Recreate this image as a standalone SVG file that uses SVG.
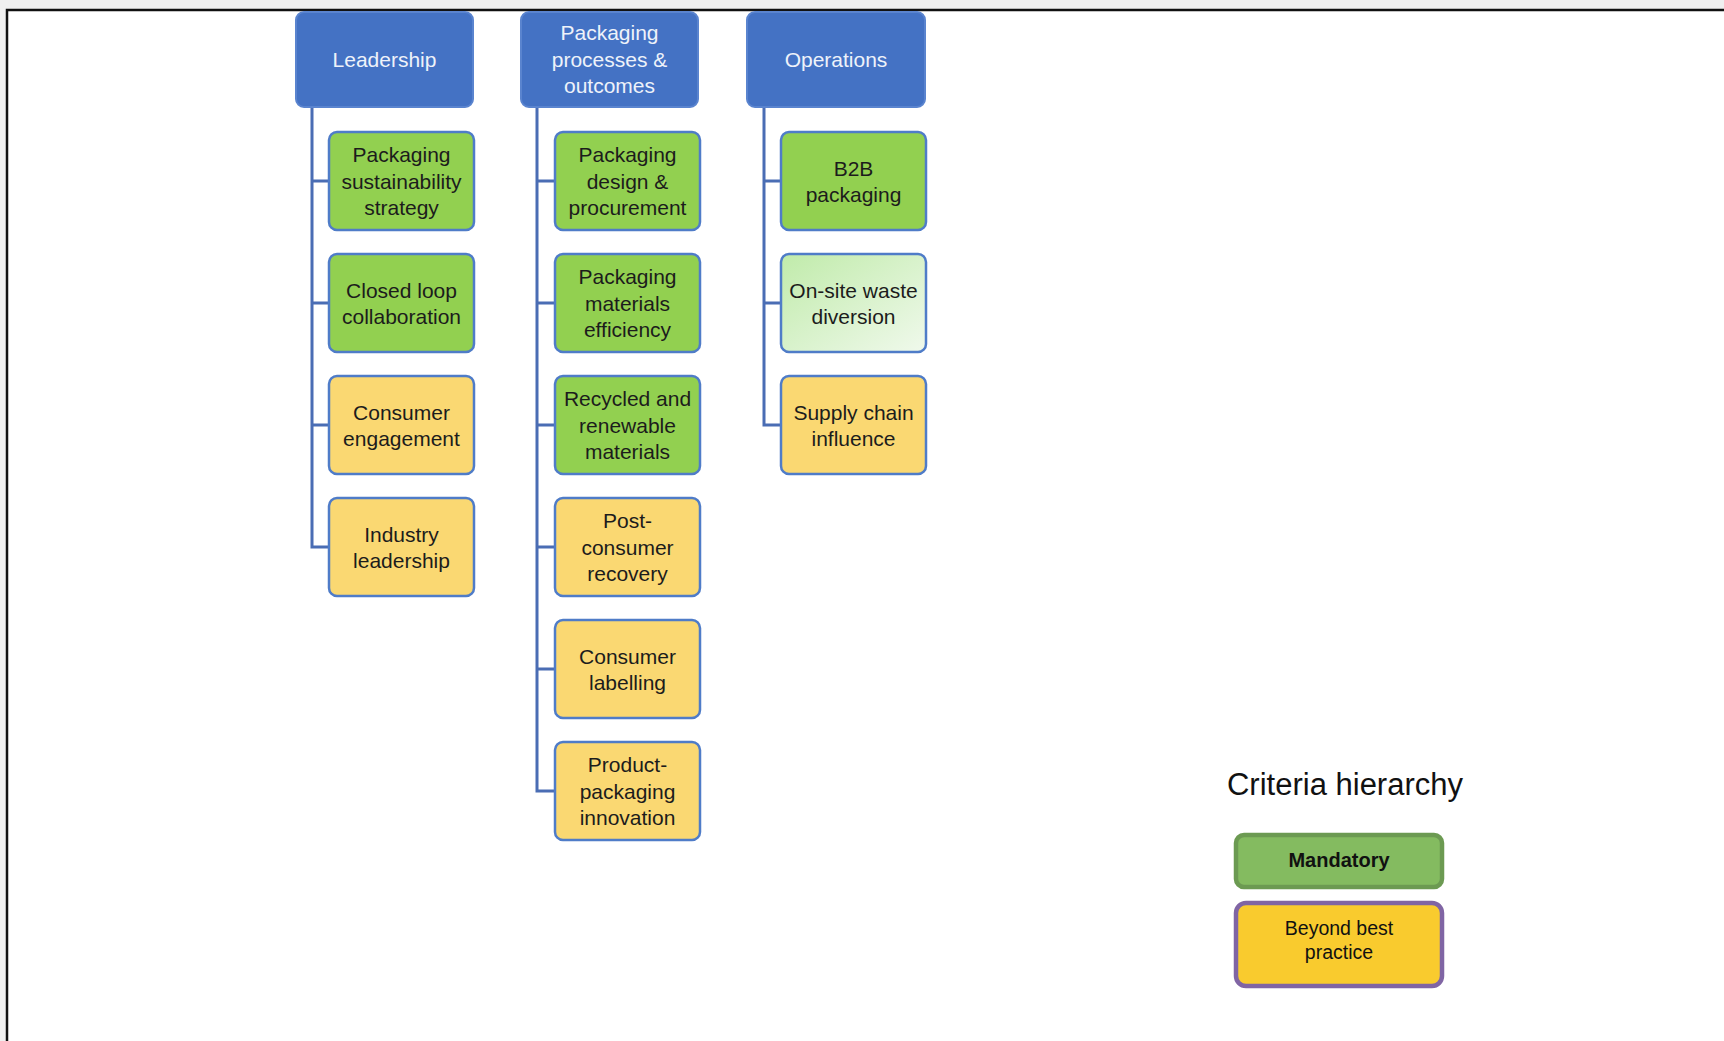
<svg xmlns="http://www.w3.org/2000/svg" width="1724" height="1041" viewBox="0 0 1724 1041">
<style>
.hdr rect{fill:#4472C4;stroke:#5a84cf;stroke-width:2}
.hdr text{fill:#eef2fa;font-family:"Liberation Sans",Arial,sans-serif;font-size:21px;text-anchor:middle}
.nd rect{stroke:#4f7cc8;stroke-width:2.5}
.nd text{fill:#1c1c1c;font-family:"Liberation Sans",Arial,sans-serif;font-size:21px;text-anchor:middle}
.g rect{fill:#92D050}
.y rect{fill:#FAD872}
.lg rect{fill:url(#lgrad)}
.conn path{fill:none;stroke:#4a6db4;stroke-width:3}
</style>
<defs>
<linearGradient id="lgrad" x1="0" y1="0" x2="1" y2="1">
<stop offset="0" stop-color="#c0ebaa"/>
<stop offset="1" stop-color="#f0f9ec"/>
</linearGradient>
</defs>
<rect x="0" y="0" width="1724" height="1041" fill="#f0f0f0"/>
<rect x="7" y="10" width="1717" height="1031" fill="#ffffff"/>
<path d="M7 1041 V10 H1724" fill="none" stroke="#111" stroke-width="2.5"/>

<g class="conn">
<path d="M312 107 V547 H329 M312 181 H329 M312 303 H329 M312 425 H329"/>
<path d="M537 107 V791 H555 M537 181 H555 M537 303 H555 M537 425 H555 M537 547 H555 M537 669 H555"/>
<path d="M764 107 V425 H781 M764 181 H781 M764 303 H781"/>
</g>

<g id="leadership" class="hdr"><rect x="296" y="12" width="177" height="95" rx="8"/><text x="384.5" y="67">Leadership</text></g>
<g id="packaging-processes" class="hdr"><rect x="521" y="12" width="177" height="95" rx="8"/><text x="609.5" y="40">Packaging</text><text x="609.5" y="67">processes &amp;</text><text x="609.5" y="93">outcomes</text></g>
<g id="operations" class="hdr"><rect x="747" y="12" width="178" height="95" rx="8"/><text x="836" y="67">Operations</text></g>

<g id="pkg-sustainability-strategy" class="nd g"><rect x="329" y="132" width="145" height="98" rx="8"/><text x="401.5" y="162">Packaging</text><text x="401.5" y="188.5">sustainability</text><text x="401.5" y="215">strategy</text></g>
<g id="closed-loop" class="nd g"><rect x="329" y="254" width="145" height="98" rx="8"/><text x="401.5" y="297.5">Closed loop</text><text x="401.5" y="323.5">collaboration</text></g>
<g id="consumer-engagement" class="nd y"><rect x="329" y="376" width="145" height="98" rx="8"/><text x="401.5" y="419.5">Consumer</text><text x="401.5" y="445.5">engagement</text></g>
<g id="industry-leadership" class="nd y"><rect x="329" y="498" width="145" height="98" rx="8"/><text x="401.5" y="541.5">Industry</text><text x="401.5" y="567.5">leadership</text></g>

<g id="pkg-design" class="nd g"><rect x="555" y="132" width="145" height="98" rx="8"/><text x="627.5" y="162">Packaging</text><text x="627.5" y="188.5">design &amp;</text><text x="627.5" y="215">procurement</text></g>
<g id="pkg-materials" class="nd g"><rect x="555" y="254" width="145" height="98" rx="8"/><text x="627.5" y="284">Packaging</text><text x="627.5" y="310.5">materials</text><text x="627.5" y="337">efficiency</text></g>
<g id="recycled" class="nd g"><rect x="555" y="376" width="145" height="98" rx="8"/><text x="627.5" y="406">Recycled and</text><text x="627.5" y="432.5">renewable</text><text x="627.5" y="459">materials</text></g>
<g id="post-consumer" class="nd y"><rect x="555" y="498" width="145" height="98" rx="8"/><text x="627.5" y="528">Post-</text><text x="627.5" y="554.5">consumer</text><text x="627.5" y="581">recovery</text></g>
<g id="consumer-labelling" class="nd y"><rect x="555" y="620" width="145" height="98" rx="8"/><text x="627.5" y="663.5">Consumer</text><text x="627.5" y="689.5">labelling</text></g>
<g id="product-packaging" class="nd y"><rect x="555" y="742" width="145" height="98" rx="8"/><text x="627.5" y="772">Product-</text><text x="627.5" y="798.5">packaging</text><text x="627.5" y="825">innovation</text></g>

<g id="b2b" class="nd g"><rect x="781" y="132" width="145" height="98" rx="8"/><text x="853.5" y="175.5">B2B</text><text x="853.5" y="201.5">packaging</text></g>
<g id="onsite-waste" class="nd lg"><rect x="781" y="254" width="145" height="98" rx="8"/><text x="853.5" y="297.5">On-site waste</text><text x="853.5" y="323.5">diversion</text></g>
<g id="supply-chain" class="nd y"><rect x="781" y="376" width="145" height="98" rx="8"/><text x="853.5" y="419.5">Supply chain</text><text x="853.5" y="445.5">influence</text></g>

<g id="legend">
<text x="1345" y="795" font-family="'Liberation Sans',Arial,sans-serif" font-size="31" fill="#111" text-anchor="middle">Criteria hierarchy</text>
<g id="legend-mandatory"><rect x="1236" y="835" width="206" height="52" rx="8" fill="#84bb60" stroke="#6c9a52" stroke-width="4.5"/><text x="1339" y="867" font-family="'Liberation Sans',Arial,sans-serif" font-size="20" font-weight="bold" fill="#111" text-anchor="middle">Mandatory</text></g>
<g id="legend-beyond"><rect x="1236" y="903" width="206" height="83" rx="10" fill="#F9CB2E" stroke="#8065a4" stroke-width="4.5"/><text x="1339" y="935" font-family="'Liberation Sans',Arial,sans-serif" font-size="19.5" fill="#111" text-anchor="middle">Beyond best</text><text x="1339" y="959" font-family="'Liberation Sans',Arial,sans-serif" font-size="19.5" fill="#111" text-anchor="middle">practice</text></g>
</g>
</svg>
